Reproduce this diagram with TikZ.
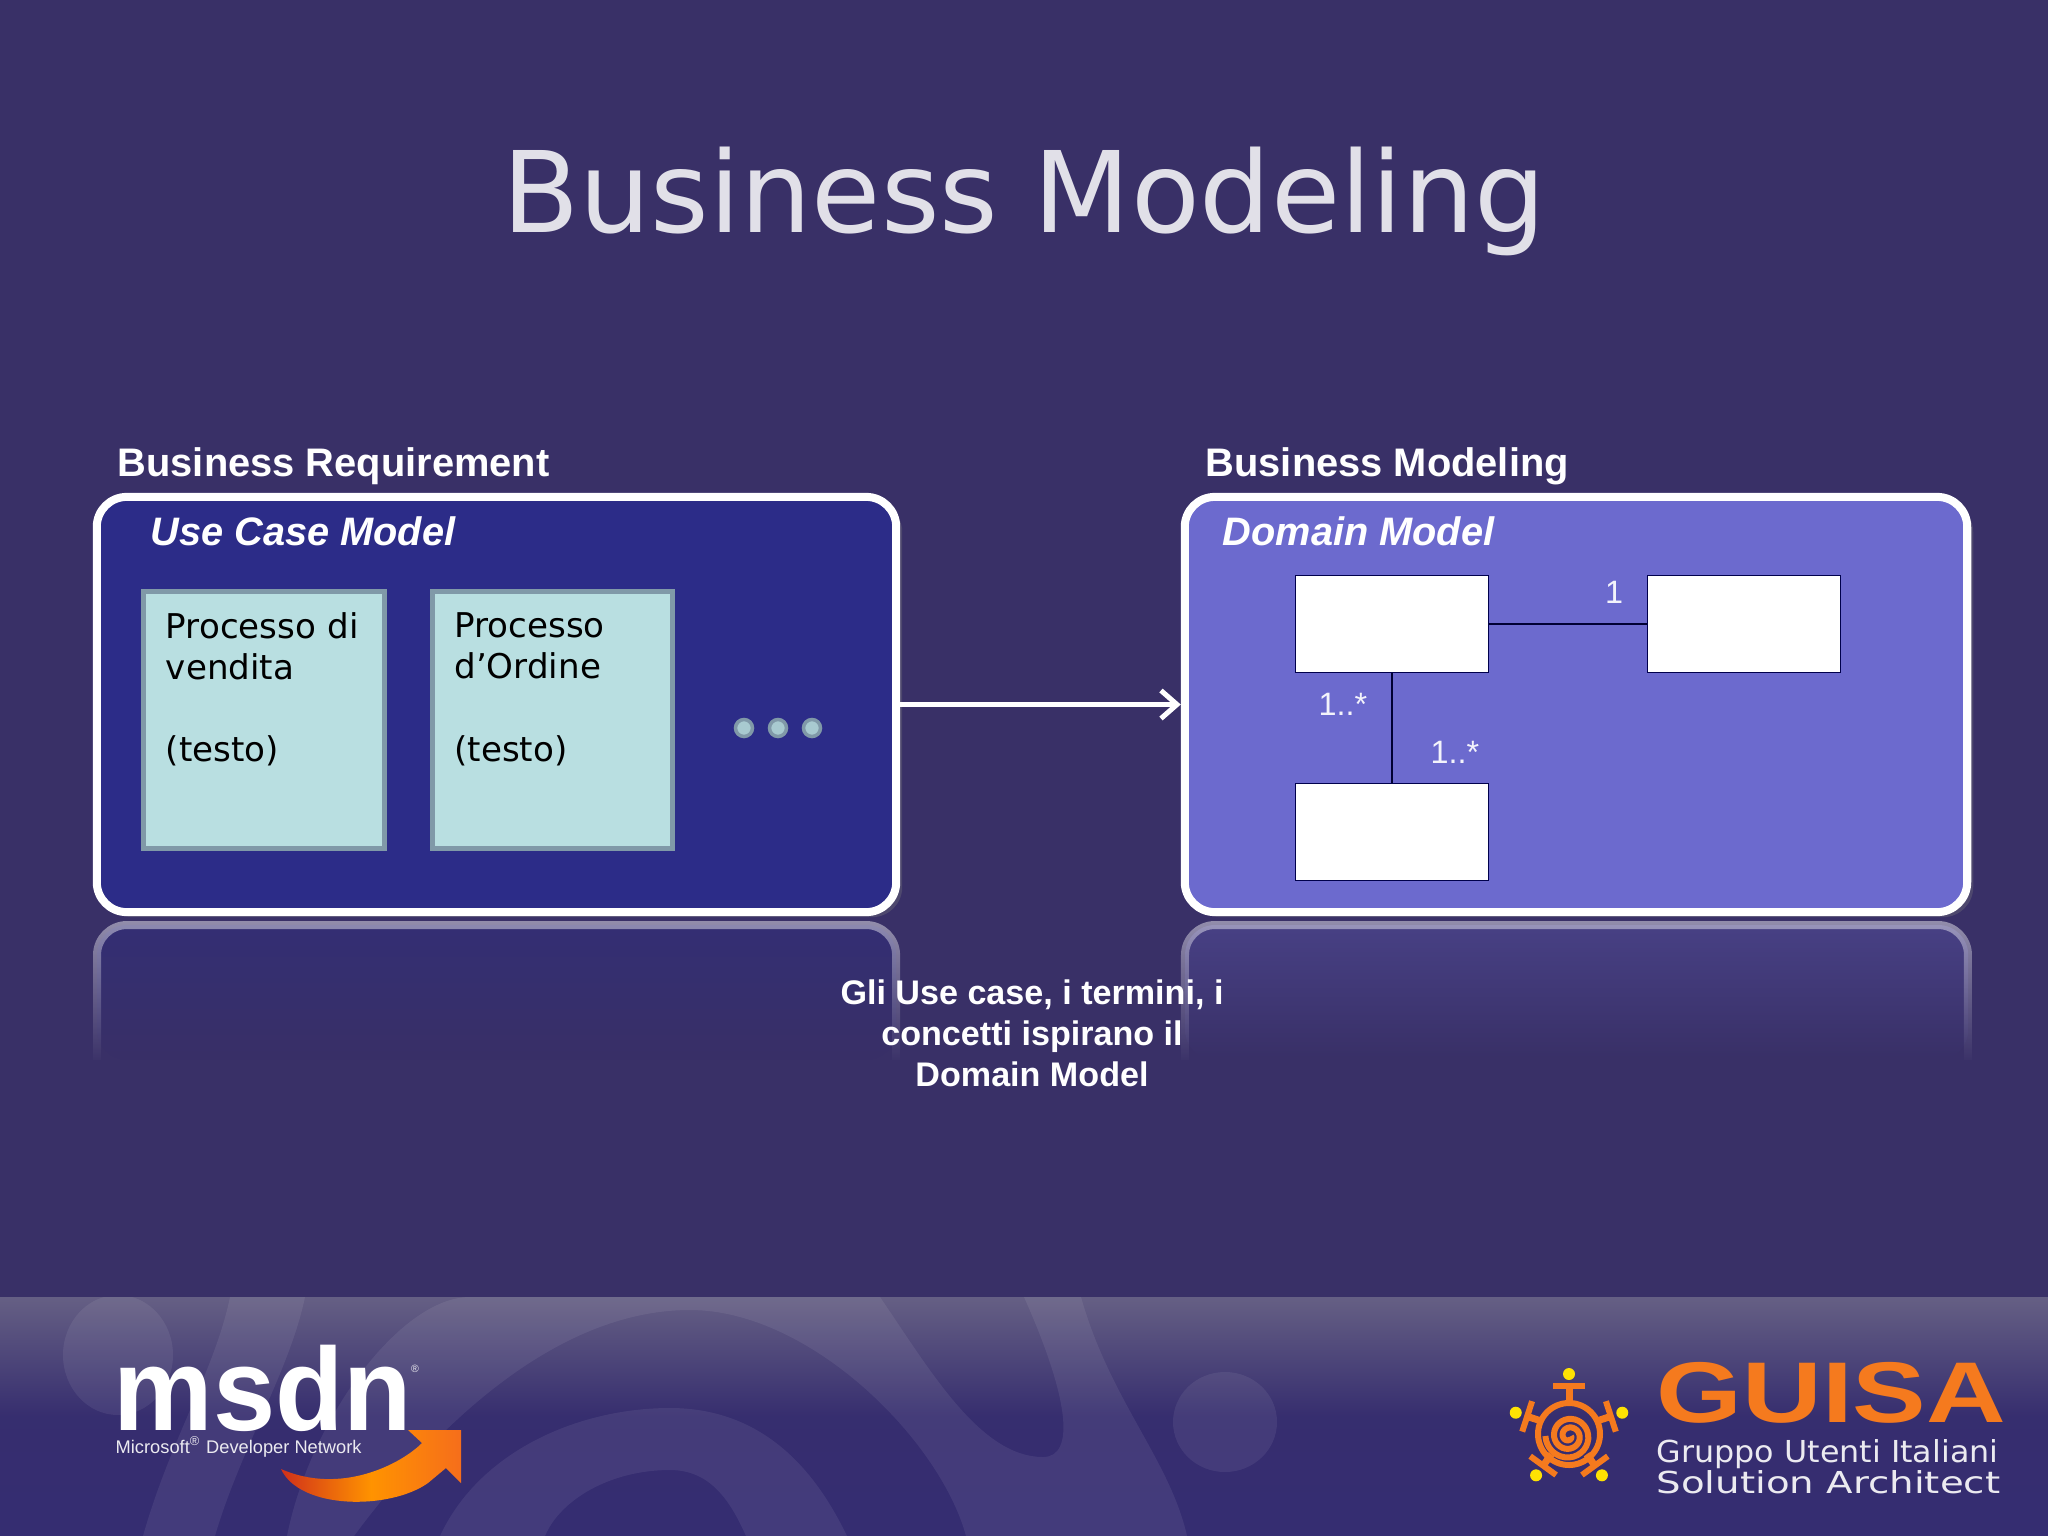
\documentclass[tikz,border=0pt]{standalone}
\usepackage{fontspec}
\setmainfont{Liberation Sans}
\newfontfamily\versfont{DejaVu Sans}
\usetikzlibrary{arrows.meta,shadows,fadings}

\definecolor{slidebg}{HTML}{393067}
\definecolor{usecasefill}{HTML}{2C2C88}
\definecolor{domainfill}{HTML}{6C6ACE}
\definecolor{procfill}{HTML}{B9DFE1}
\definecolor{procline}{HTML}{8099A8}
\definecolor{guisaorange}{HTML}{F57A1E}
\definecolor{logored}{HTML}{D0301A}

\tikzfading[name=fadedown, top color=transparent!35, bottom color=transparent!100]
\tikzfading[name=fadeline, top color=transparent!55, bottom color=transparent!100]

\tikzset{
  modelbox/.style={draw=white, line width=0.08cm, rounded corners=0.3cm, minimum height=4.15cm,
    drop shadow={shadow xshift=0.06cm, shadow yshift=-0.05cm, opacity=0.3}},
  procbox/.style={draw=procline, fill=procfill, line width=0.05cm, minimum width=2.40cm, minimum height=2.56cm,
    text width=1.96cm, align=left, anchor=center, font=\versfont\fontsize{9.7}{11.7}\selectfont},
  classbox/.style={draw=black!70!blue, fill=white, line width=0.01cm, minimum width=1.92cm, minimum height=0.96cm},
  headlabel/.style={text=white, font=\bfseries\fontsize{11.33}{13}\selectfont, anchor=west, inner sep=0pt},
  modeltitle/.style={text=white, font=\bfseries\itshape\fontsize{11.3}{13}\selectfont, anchor=west, inner sep=0pt},
  multlabel/.style={text=white!92!domainfill, font=\fontsize{9.2}{11}\selectfont, inner sep=0pt},
  dotmark/.style={circle, draw=procline, fill=procfill!70!procline, line width=0.035cm, minimum size=0.17cm, inner sep=0pt},
  mirror/.style={rounded corners=0.3cm, path fading=fadedown},
  mirrorline/.style={draw=white, line width=0.08cm, rounded corners=0.3cm, path fading=fadeline},
  guisatext/.style={text=white!90!slidebg, font=\versfont\fontsize{8.6}{9}\selectfont, inner sep=0pt, anchor=base west}
}

\begin{document}
\begin{tikzpicture}[x=0.01cm, y=-0.01cm]
  \useasboundingbox (0,0) rectangle (2048,1536);
  \fill[slidebg] (0,0) rectangle (2048,1536);

  % footer band
  \begin{scope}
    \clip (0,1297) rectangle (2048,1536);
    \shade[top color=black!25!white!33!slidebg, bottom color=slidebg!93!blue, middle color=slidebg!95!blue] (0,1297) rectangle (2048,1536);
    \fill[white, opacity=0.07] (118,1355) ellipse (55 and 60);
    \fill[white, opacity=0.07] (1225,1422) ellipse (52 and 50);
    \fill[white, opacity=0.07] (143,1536) .. controls (170,1440) and (215,1370) .. (230,1297) -- (305,1297) .. controls (290,1370) and (240,1450) .. (215,1536) -- cycle;
    \fill[white, opacity=0.07] (287,1536) .. controls (310,1420) and (400,1297) .. (470,1297) -- (880,1297) .. controls (930,1370) and (980,1457) .. (1043,1457) .. controls (1075,1457) and (1070,1400) .. (1024,1297) -- (1081,1297) .. controls (1110,1400) and (1170,1460) .. (1187,1536) -- (966,1536) .. controls (940,1440) and (810,1310) .. (690,1310) .. controls (560,1310) and (440,1420) .. (354,1536) -- cycle;
    \fill[white, opacity=0.07] (440,1536) .. controls (480,1450) and (580,1408) .. (670,1408) .. controls (770,1408) and (820,1480) .. (847,1536) -- (746,1536) .. controls (730,1500) and (710,1470) .. (670,1470) .. controls (610,1470) and (560,1500) .. (545,1536) -- cycle;
  \end{scope}

  % reflections
  \fill[mirror, usecasefill!60!slidebg] (97,925) -- (896,925) -- (896,1060) -- (97,1060) -- cycle;
  \fill[mirror, domainfill!45!slidebg] (1185,925) -- (1968,925) -- (1968,1060) -- (1185,1060) -- cycle;
  \path[mirrorline] (97,1060) -- (97,925) -- (896,925) -- (896,1060);
  \path[mirrorline] (1185,1060) -- (1185,925) -- (1968,925) -- (1968,1060);

  \node[text=white!85!slidebg, font=\versfont\fontsize{32}{38}\selectfont] (slidetitle) at (1024,201) {Business Modeling};

  \node[headlabel] (reqlabel) at (117,466) {Business Requirement};
  \node[headlabel] (modlabel) at (1205,466) {Business Modeling};

  \node[modelbox, fill=usecasefill, minimum width=7.99cm] (usecase) at (496.5,704.5) {};
  \node[modelbox, fill=domainfill, minimum width=7.82cm] (domain) at (1576,704.5) {};

  \node[modeltitle] (usecasetitle) at (150,531) {Use Case Model};
  \node[modeltitle] (domaintitle) at (1222,531) {Domain Model};

  \node[procbox] (vendita) at (264,720) {Processo di\\vendita\\[\baselineskip](testo)\\[0.6\baselineskip]\mbox{}};
  \node[procbox] (ordine) at (552.5,720) {Processo\\d’Ordine\\[\baselineskip](testo)\\[0.6\baselineskip]\mbox{}};

  \node[dotmark] (dotone) at (744,728) {};
  \node[dotmark] (dottwo) at (778,728) {};
  \node[dotmark] (dotthree) at (812,728) {};

  \node[classbox] (classa) at (1392,624) {};
  \node[classbox] (classb) at (1744,624) {};
  \node[classbox] (classc) at (1392,832) {};

  \draw[black!80!blue, line width=0.012cm] (classa.east) -- (classb.west);
  \draw[black!80!blue, line width=0.012cm] (classa.south) -- (classc.north);
  \draw[->, white, line width=0.05cm, >={Straight Barb[length=0.16cm, width=0.28cm]}] (usecase.east) -- (domain.west);

  \node[multlabel] (multone) at (1614,592) {1};
  \node[multlabel] (multtwo) at (1343,704) {1..*};
  \node[multlabel] (multthree) at (1455,752) {1..*};

  \node[text=white, align=center, font=\bfseries\fontsize{9.7}{11.6}\selectfont, inner sep=0pt] (note) at (1032,1033) {Gli Use case, i termini, i\\concetti ispirano il\\Domain Model};

  % msdn logo
  \node[text=white, font=\bfseries\fontsize{33.5}{34}\selectfont, inner sep=0pt, anchor=base west] (msdn) at (113,1430) {\scalebox{0.95}[1]{msdn}};
  \node[text=white!90!slidebg, font=\fontsize{3}{3}\selectfont, inner sep=0pt] (msdnreg) at (415,1369) {®};
  \node[text=white!90!slidebg, font=\fontsize{5.2}{6}\selectfont, inner sep=0pt, anchor=base west] (msdnsub) at (115,1453) {Microsoft\textsuperscript{®} Developer Network};
  \shade[left color=logored, right color=guisaorange!90!red, middle color=orange!85!yellow] (281,1469) .. controls (300,1510) and (390,1510) .. (428,1483) -- (446,1468) -- (461,1483) -- (461,1430) -- (408,1430) -- (422,1443) .. controls (400,1465) and (340,1495) .. (281,1469) -- cycle;

  % guisa logo
  \node[text=guisaorange, font=\fontsize{24.5}{25}\selectfont\bfseries, inner sep=0pt, anchor=base west] (guisa) at (1656,1422) {\scalebox{1.28}[1]{GUISA}};
  \node[guisatext] (guisaone) at (1656,1462) {\scalebox{1.05}[1]{Gruppo Utenti Italiani}};
  \node[guisatext] (guisatwo) at (1656,1493) {\scalebox{1.28}[1]{Solution Architect}};
  \draw[guisaorange, line width=0.06cm, domain=0:900, samples=80, smooth] plot ({1569+(2+0.024*\x)*cos(\x)}, {1436+(2+0.024*\x)*sin(\x)});
  \foreach \ang in {-90,-18,54,126,198}{
    \fill[yellow!85!orange] ({1569+56*cos(\ang)},{1430+56*sin(\ang)}) circle (6);
    \draw[guisaorange, line width=0.07cm] ({1569+30*cos(\ang)},{1430+30*sin(\ang)}) -- ({1569+44*cos(\ang)},{1430+44*sin(\ang)});
    \draw[guisaorange, line width=0.06cm] ({1569+44*cos(\ang)-16*sin(\ang)},{1430+44*sin(\ang)+16*cos(\ang)}) -- ({1569+44*cos(\ang)+16*sin(\ang)},{1430+44*sin(\ang)-16*cos(\ang)});
  }
  \draw[guisaorange, line width=0.06cm] (1569,1434) circle (31);
\end{tikzpicture}
\end{document}
